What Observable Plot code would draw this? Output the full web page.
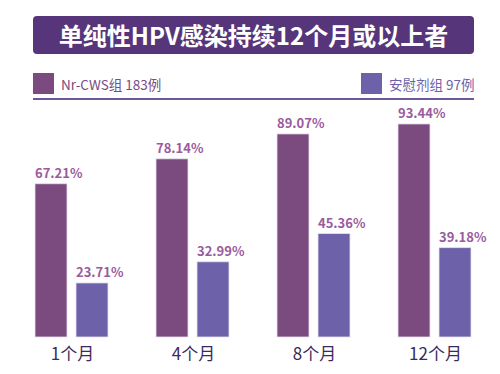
<!DOCTYPE html>
<html>
<head>
<meta charset="utf-8">
<script src="https://cdn.jsdelivr.net/npm/d3@7"></script>
<script src="https://cdn.jsdelivr.net/npm/@observablehq/plot@0.6"></script>
<style>
  html, body { margin: 0; padding: 0; background: #fff; }
  #wrap { position: relative; width: 500px; height: 374px; overflow: hidden; font-family: "Noto Sans CJK SC", "Noto Sans", sans-serif; }
  #title { position: absolute; left: 33px; top: 16px; width: 441px; height: 38px; background: #56357a; border-radius: 4px; color: #fff; font-size: 24px; font-weight: bold; text-align: center; line-height: 38px; z-index: 2; }
  .leg { position: absolute; top: 73px; height: 21px; display: flex; align-items: center; font-size: 13.5px; z-index: 2; }
  .sw { width: 21px; height: 21px; margin-right: 7px; }
  #rule { position: absolute; left: 33px; top: 98px; width: 441px; height: 2px; background: #6f559a; z-index: 2; }
  #chart { position: absolute; left: 0; top: 0; }
</style>
</head>
<body>
<div id="wrap">
  <div id="title"></div>
  <div id="leg1" class="leg" style="left:33px"><div class="sw"></div><span></span></div>
  <div id="leg2" class="leg" style="left:361px"><div class="sw"></div><span></span></div>
  <div id="rule"></div>
  <div id="chart"></div>
</div>
<script>
const titleText = "单纯性HPV感染持续12个月或以上者";
const months = ["1个月", "4个月", "8个月", "12个月"];
const seriesNames = ["Nr-CWS组 183例", "安慰剂组 97例"];
const seriesColors = ["#7b4a7f", "#6d62a9"];
const nrCwsValues = [67.21, 78.14, 89.07, 93.44];
const placeboValues = [23.71, 32.99, 45.36, 39.18];

document.getElementById("title").textContent = titleText;
[["leg1", 0], ["leg2", 1]].forEach(([id, i]) => {
  const el = document.getElementById(id);
  el.querySelector(".sw").style.background = seriesColors[i];
  el.querySelector("span").textContent = seriesNames[i];
  el.querySelector("span").style.color = seriesColors[i];
});

const data = [];
months.forEach((m, i) => {
  data.push({month: m, series: seriesNames[0], value: nrCwsValues[i]});
  data.push({month: m, series: seriesNames[1], value: placeboValues[i]});
});

const chart = Plot.plot({
  width: 500,
  height: 374,
  marginLeft: 33,
  marginRight: 26,
  marginTop: 109,
  marginBottom: 37,
  style: {fontFamily: "'Noto Sans CJK SC', 'Noto Sans', sans-serif", background: "transparent"},
  fx: {domain: months, paddingInner: 0.385, paddingOuter: 0, label: null, axis: null},
  x: {domain: seriesNames, paddingInner: 0.214, paddingOuter: 0, axis: null},
  y: {domain: [0, 100], axis: null},
  color: {domain: seriesNames, range: seriesColors},
  marks: [
    Plot.barY(data, {fx: "month", x: "series", y: "value", fill: "series", stroke: "#e9e0ef", strokeWidth: 0.8}),
    Plot.text(data, {fx: "month", x: "series", y: "value", text: d => d.value.toFixed(2) + "%",
      textAnchor: "start", dx: -16.5, dy: -6, lineAnchor: "bottom", fill: "#9a5a9d",
      fontSize: 13, fontWeight: "bold"}),
    Plot.axisFx({anchor: "bottom", tickSize: 0, tickPadding: 10, fontSize: 17, color: "#3a2a60", label: null})
  ]
});
document.getElementById("chart").appendChild(chart);
</script>
</body>
</html>
